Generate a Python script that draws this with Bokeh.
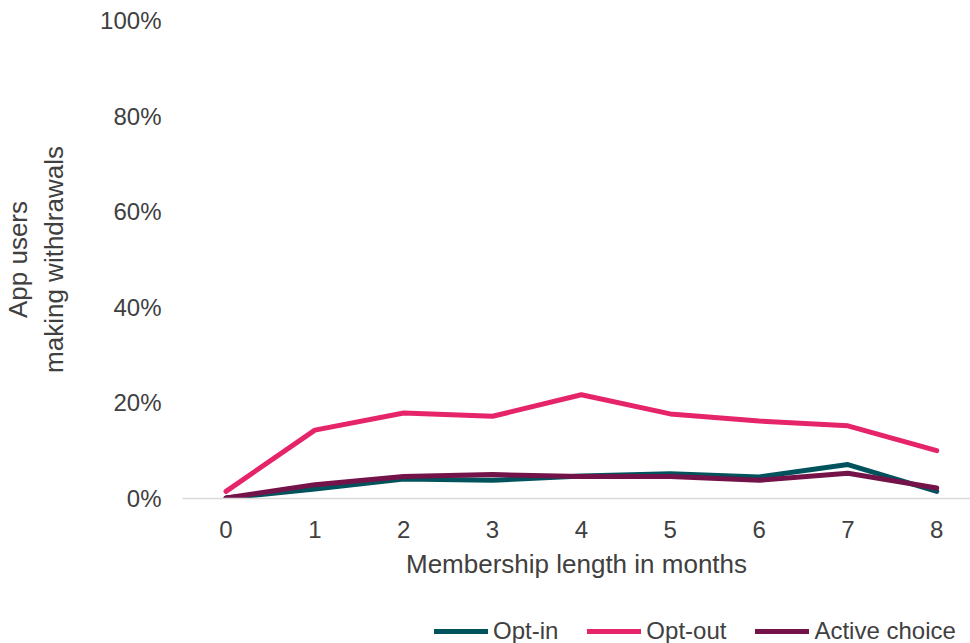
from bokeh.plotting import figure
from bokeh.layouts import column
from bokeh.models import Legend, LegendItem, NumeralTickFormatter, FixedTicker
from bokeh.embed import file_html
from bokeh.resources import INLINE

# Share of app users making withdrawals, by membership length (months)
months = [0, 1, 2, 3, 4, 5, 6, 7, 8]
opt_in = [0.001, 0.020, 0.041, 0.038, 0.047, 0.052, 0.045, 0.071, 0.015]
opt_out = [0.015, 0.143, 0.179, 0.172, 0.217, 0.177, 0.162, 0.152, 0.100]
active_choice = [0.001, 0.029, 0.046, 0.050, 0.046, 0.046, 0.038, 0.053, 0.022]

series_names = ["Opt-in", "Opt-out", "Active choice"]
series_colors = ["#00535C", "#E6246A", "#74134A"]
series_values = [opt_in, opt_out, active_choice]

FONT = "Liberation Sans"
TEXT = "#404040"

# main chart
p = figure(
    width=970, height=600,
    x_range=(-0.49, 8.38), y_range=(0, 1),
    output_backend="svg", toolbar_location=None,
    min_border_left=181, min_border_right=0,
    min_border_top=20, min_border_bottom=102,
)
p.outline_line_color = None
p.xgrid.grid_line_color = None
p.ygrid.grid_line_color = None

for vals, col in zip(series_values, series_colors):
    p.line(months, vals, line_color=col, line_width=5, line_cap="round", line_join="round")

# x axis
p.xaxis.ticker = FixedTicker(ticks=months)
p.xaxis.axis_label = "Membership length in months"
p.xaxis.axis_line_color = "#D9D9D9"
p.xaxis.axis_line_width = 1.5
p.xaxis.major_tick_line_color = None
p.xaxis.minor_tick_line_color = None
p.xaxis.major_label_standoff = 16
p.xaxis.axis_label_standoff = 8
p.xaxis.major_label_text_font = FONT
p.xaxis.major_label_text_font_size = "24px"
p.xaxis.major_label_text_color = TEXT
p.xaxis.axis_label_text_font = FONT
p.xaxis.axis_label_text_font_size = "26px"
p.xaxis.axis_label_text_font_style = "normal"
p.xaxis.axis_label_text_color = TEXT

# y axis
p.yaxis.ticker = FixedTicker(ticks=[0, 0.2, 0.4, 0.6, 0.8, 1.0])
p.yaxis.formatter = NumeralTickFormatter(format="0%")
p.yaxis.axis_line_color = None
p.yaxis.major_tick_line_color = None
p.yaxis.minor_tick_line_color = None
p.yaxis.major_label_standoff = 15
p.yaxis.axis_label = "App users\nmaking withdrawals"
p.yaxis.axis_label_standoff = 28
p.yaxis.major_label_text_font = FONT
p.yaxis.major_label_text_font_size = "24px"
p.yaxis.major_label_text_color = TEXT
p.yaxis.axis_label_text_font = FONT
p.yaxis.axis_label_text_font_size = "26px"
p.yaxis.axis_label_text_font_style = "normal"
p.yaxis.axis_label_text_color = TEXT

# legend strip under the chart; its lines sit outside the visible range
lg = figure(
    width=970, height=43,
    x_range=(0, 1), y_range=(10, 11),
    x_axis_type=None, y_axis_type=None,
    output_backend="svg", toolbar_location=None,
    min_border=0,
)
lg.outline_line_color = None
lg.xgrid.grid_line_color = None
lg.ygrid.grid_line_color = None

items = []
for name, vals, col in zip(series_names, series_values, series_colors):
    r = lg.line(months, vals, line_color=col, line_width=5, line_cap="round")
    items.append(LegendItem(label=name, renderers=[r]))

legend = Legend(
    items=items,
    orientation="horizontal",
    location=(252, -2),
    label_text_font=FONT,
    label_text_font_size="24px",
    label_text_color=TEXT,
    label_height=24,
    glyph_width=54,
    glyph_height=24,
    label_standoff=5,
    spacing=29,
    padding=0,
    margin=0,
    border_line_color=None,
    background_fill_alpha=0,
)
lg.add_layout(legend, "center")

layout = column(p, lg, spacing=0)
open("out.html", "w").write(file_html(layout, INLINE))
